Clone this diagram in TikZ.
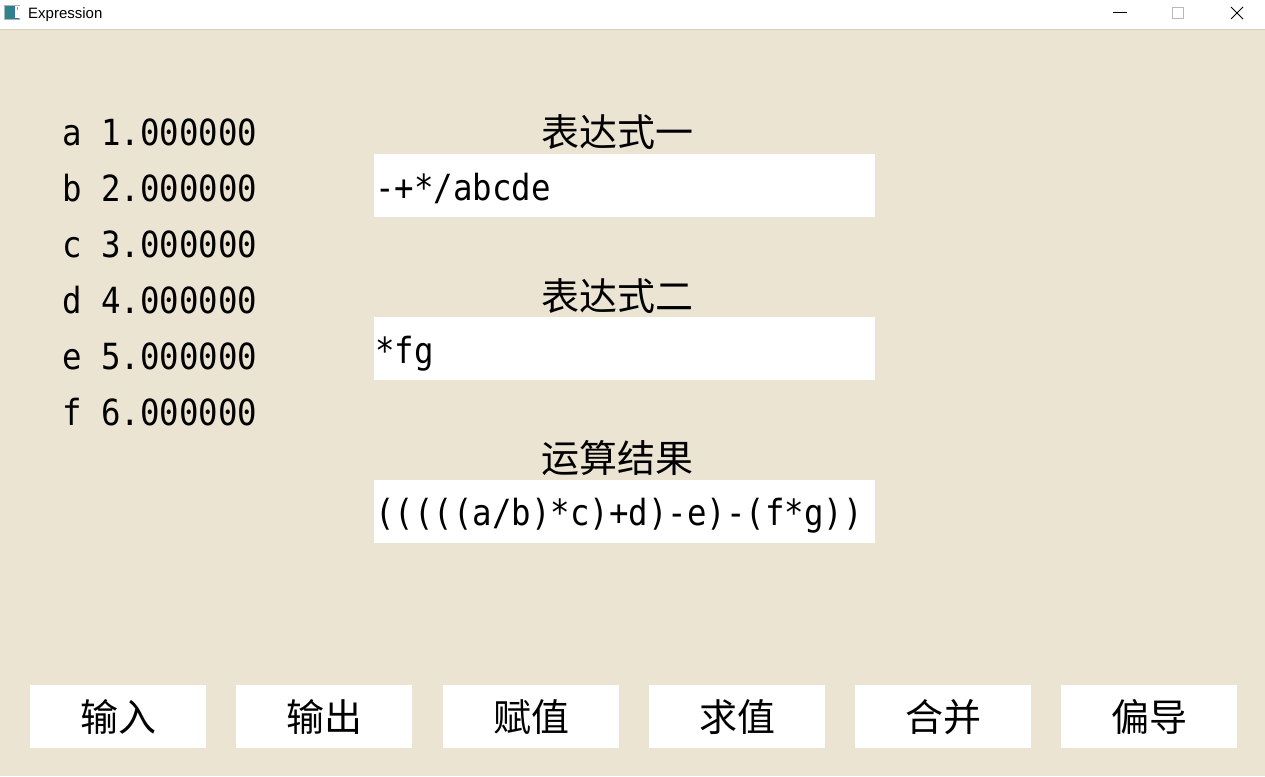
\documentclass[tikz,border=0pt]{standalone}
\usepackage{fontspec}
\usepackage{graphicx}
\setmainfont{Liberation Sans}
\setmonofont{DejaVu Sans Mono}
\newfontfamily\cjk{Noto Sans CJK SC}
\definecolor{bg}{RGB}{236,228,211}
\definecolor{sepline}{RGB}{214,207,190}
\definecolor{icoteal}{RGB}{40,140,130}
\definecolor{icoblue}{RGB}{60,110,170}
\begin{document}
\begin{tikzpicture}[x=1pt,y=-1pt,
  tbox/.style={fill=white,draw=none,minimum width=501pt,minimum height=63pt,anchor=north west,inner sep=0pt},
  btn/.style={fill=white,draw=none,minimum width=176pt,minimum height=63pt,anchor=north west,inner sep=0pt,font=\cjk\fontsize{38}{40}\selectfont},
  head/.style={inner sep=0pt,anchor=center,font=\cjk\fontsize{38}{40}\selectfont},
  mono/.style={inner sep=0pt,anchor=base west,font=\ttfamily\fontsize{36}{40}\selectfont},
  ctl/.style={line width=1pt}
]
\useasboundingbox (0,0) rectangle (1265,776);
\fill[bg] (0,0) rectangle (1265,776);
\fill[white] (0,0) rectangle (1265,29);
\draw[sepline,line width=1pt] (0,29.5) -- (1265,29.5);
% title bar
\node (icon) [draw=gray!60,line width=0.8pt,minimum width=15pt,minimum height=14pt,inner sep=0pt,anchor=north west,left color=icoteal,right color=icoblue] at (4,5) {};
\fill[white] (15,6) rectangle (19.5,18.5);
\fill[icoteal!70] (16.5,7) rectangle (17.5,10);
\node (title) [inner sep=0pt,anchor=base west,font=\fontsize{15}{18}\selectfont] at (28,19) {Expression};
\coordinate (minL) at (1113,12.5); \coordinate (minR) at (1127,12.5);
\draw[ctl] (minL) -- (minR);
\node (maxbox) [draw=gray!55,line width=1pt,minimum width=11pt,minimum height=11pt,inner sep=0pt,anchor=north west] at (1172,7) {};
\coordinate (x1) at (1231,7); \coordinate (x2) at (1243,19);
\coordinate (x3) at (1231,19); \coordinate (x4) at (1243,7);
\draw[ctl] (x1) -- (x2); \draw[ctl] (x3) -- (x4);
% variables
\node (va) [mono] at (62,145) {\scalebox{0.9}[1]{a 1.000000}};
\node (vb) [mono] at (62,201) {\scalebox{0.9}[1]{b 2.000000}};
\node (vc) [mono] at (62,257) {\scalebox{0.9}[1]{c 3.000000}};
\node (vd) [mono] at (62,313) {\scalebox{0.9}[1]{d 4.000000}};
\node (ve) [mono] at (62,369) {\scalebox{0.9}[1]{e 5.000000}};
\node (vf) [mono] at (62,425) {\scalebox{0.9}[1]{f 6.000000}};
% expression boxes
\node (h1) [head] at (617,132) {表达式一};
\node (b1) [tbox] at (374,154) {};
\node (t1) [mono] at (375,200) {\scalebox{0.9}[1]{-+*/abcde}};
\node (h2) [head] at (617,296) {表达式二};
\node (b2) [tbox] at (374,317) {};
\node (t2) [mono] at (375,363) {\scalebox{0.9}[1]{*fg}};
\node (h3) [head] at (617,458) {运算结果};
\node (b3) [tbox] at (374,480) {};
\node (t3) [mono] at (375,525) {\scalebox{0.9}[1]{(((((a/b)*c)+d)-e)-(f*g))}};
% buttons
\node (k1) [btn] at (30,685) {输入};
\node (k2) [btn] at (236,685) {输出};
\node (k3) [btn] at (443,685) {赋值};
\node (k4) [btn] at (649,685) {求值};
\node (k5) [btn] at (855,685) {合并};
\node (k6) [btn] at (1061,685) {偏导};
\end{tikzpicture}
\end{document}
